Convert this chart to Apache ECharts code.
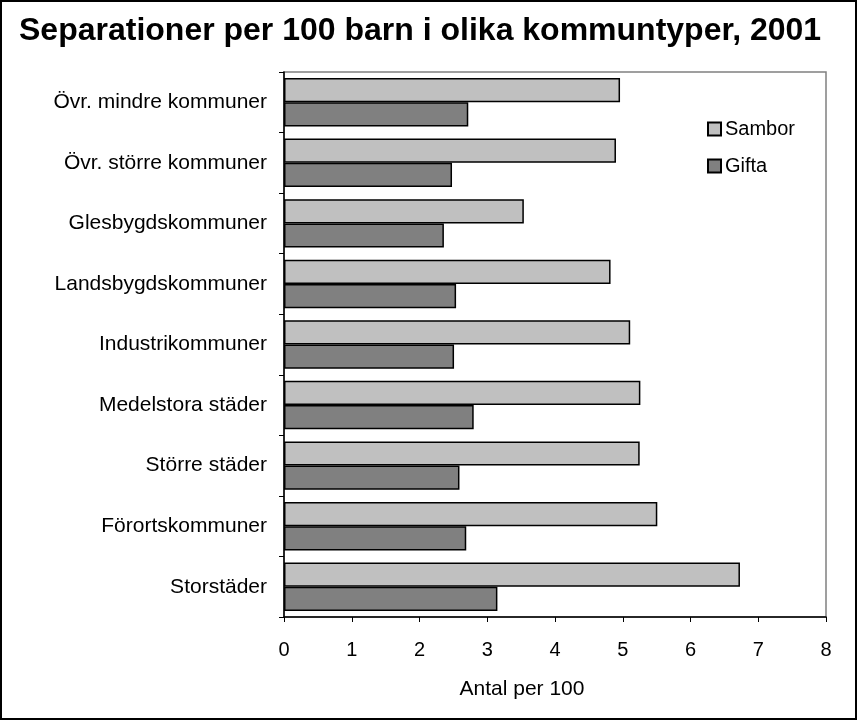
<!DOCTYPE html>
<html>
<head>
<meta charset="utf-8">
<script src="https://cdn.jsdelivr.net/npm/echarts@6/dist/echarts.min.js"></script>
<style>
  html, body { margin: 0; padding: 0; background: #fff; }
  #chart { width: 857px; height: 720px; }
</style>
</head>
<body>
<div id="chart"></div>
<script>
const categories = [
  'Övr. mindre kommuner',
  'Övr. större kommuner',
  'Glesbygdskommuner',
  'Landsbygdskommuner',
  'Industrikommuner',
  'Medelstora städer',
  'Större städer',
  'Förortskommuner',
  'Storstäder',
]
const sambor = [4.96, 4.90, 3.54, 4.82, 5.11, 5.26, 5.25, 5.51, 6.73]
const gifta = [2.72, 2.48, 2.36, 2.54, 2.51, 2.80, 2.59, 2.69, 3.15]

const font = 'Arial, "Liberation Sans", sans-serif'
const chart = echarts.init(document.getElementById('chart'))

chart.setOption({
  backgroundColor: '#fff',
  animation: false,
  title: {
    text: 'Separationer per 100 barn i olika kommuntyper, 2001',
    left: 14,
    top: 10,
    textStyle: { fontFamily: font, fontSize: 32, fontWeight: 'bold', color: '#000' },
  },
  legend: {
    orient: 'vertical',
    left: 702,
    top: 114,
    itemWidth: 13,
    itemHeight: 13,
    itemGap: 17,
    icon: 'rect',
    textStyle: { fontFamily: font, fontSize: 20, color: '#000', padding: [0, 0, 0, -1] },
    data: ['Sambor', 'Gifta'],
  },
  grid: {
    left: 284,
    top: 72,
    right: 31,
    bottom: 103,
    show: true,
    borderColor: '#808080',
    borderWidth: 1.5,
  },
  xAxis: {
    type: 'value',
    min: 0,
    max: 8,
    interval: 1,
    axisLine: { show: true, lineStyle: { color: '#000', width: 1.5 } },
    axisTick: { show: true, inside: false, length: 5, lineStyle: { color: '#000' } },
    splitLine: { show: false },
    axisLabel: { fontFamily: font, fontSize: 20, color: '#000', margin: 23 },
  },
  yAxis: {
    type: 'category',
    inverse: true,
    data: categories,
    axisLine: { show: true, lineStyle: { color: '#000', width: 1.5 } },
    axisTick: { show: true, inside: false, length: 5, lineStyle: { color: '#000' } },
    axisLabel: { fontFamily: font, fontSize: 21, color: '#000', margin: 17 },
  },
  series: [
    {
      name: 'Sambor',
      type: 'bar',
      data: sambor,
      barGap: '0%',
      barCategoryGap: '20%',
      itemStyle: { color: '#c0c0c0', borderColor: '#000', borderWidth: 1.5 },
    },
    {
      name: 'Gifta',
      type: 'bar',
      data: gifta,
      barGap: '0%',
      barCategoryGap: '20%',
      itemStyle: { color: '#808080', borderColor: '#000', borderWidth: 1.5 },
    },
  ],
  graphic: [
    {
      type: 'rect',
      shape: { x: 1, y: 1, width: 855, height: 718 },
      style: { fill: 'none', stroke: '#000', lineWidth: 2 },
      silent: true,
    },
    {
      type: 'text',
      x: 522,
      y: 679,
      style: {
        text: 'Antal per 100',
        fontFamily: font,
        fontSize: 21,
        fill: '#000',
        textAlign: 'center',
      },
    },
  ],
})
</script>
</body>
</html>
